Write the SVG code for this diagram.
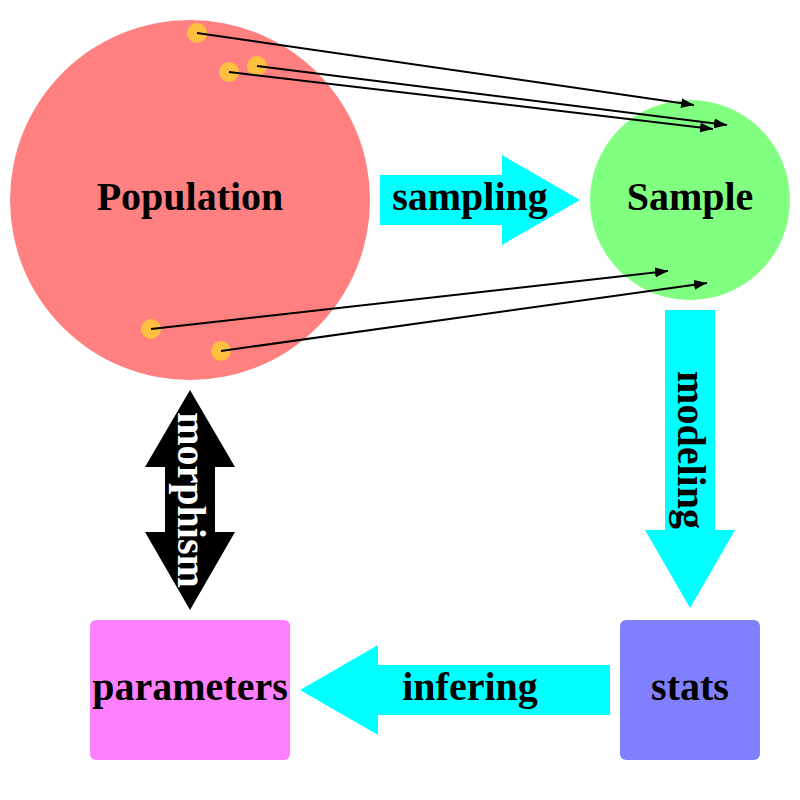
<svg xmlns="http://www.w3.org/2000/svg" width="800" height="800" viewBox="0 0 800 800">
<style>
.lbl{font-family:"Liberation Serif","Times New Roman",serif;font-weight:bold;font-size:40px;text-anchor:middle;fill:#000}
.wht{fill:#fff}
.cyan{fill:#00ffff}
.link{stroke:#000;stroke-width:2;fill:none;marker-end:url(#ah)}
.dot{fill:#ffbf40}
</style>
<defs>
<marker id="ah" viewBox="0 0 13 10" refX="13" refY="5" markerWidth="13" markerHeight="10" markerUnits="userSpaceOnUse" orient="auto">
<path d="M0,0 L13,5 L0,10 Z" fill="#000"/>
</marker>
</defs>
<rect width="800" height="800" fill="#fff"/>
<g id="population">
<circle cx="190" cy="200" r="180" fill="#ff8080"/>
<text class="lbl" x="190" y="210">Population</text>
</g>
<g id="sample">
<circle cx="690" cy="200" r="100" fill="#80ff80"/>
<text class="lbl" x="690" y="210">Sample</text>
</g>
<g id="parameters">
<rect x="90" y="620" width="200" height="140" rx="6" fill="#ff80ff"/>
<text class="lbl" x="190" y="700">parameters</text>
</g>
<g id="stats">
<rect x="620" y="620" width="140" height="140" rx="6" fill="#8080ff"/>
<text class="lbl" x="690" y="700">stats</text>
</g>
<g id="dots">
<circle class="dot" cx="197" cy="33" r="10"/>
<circle class="dot" cx="257" cy="66" r="10"/>
<circle class="dot" cx="229" cy="72" r="10"/>
<circle class="dot" cx="151" cy="329" r="10"/>
<circle class="dot" cx="221" cy="351" r="10"/>
</g>
<g id="connectors">
<g id="sampling">
<path class="cyan" d="M380,175 H502 V155 L580,200 L502,245 V225 H380 Z"/>
<text class="lbl" x="470" y="210">sampling</text>
</g>
<g id="modeling">
<path class="cyan" d="M665,310 H715 V530 H735 L690,608 L645,530 H665 Z"/>
<text class="lbl" transform="translate(690,450) rotate(90)" x="0" y="12">modeling</text>
</g>
<g id="infering">
<path class="cyan" d="M610,665 V715 H378 V735 L300,690 L378,645 V665 Z"/>
<text class="lbl" x="470" y="700">infering</text>
</g>
<g id="morphism">
<path fill="#000" d="M190,390 L235,467 H215 V532 H235 L190,610 L145,532 H165 V467 H145 Z"/>
<text class="lbl wht" transform="translate(190,500) rotate(90)" x="0" y="12">morphism</text>
</g>
<line class="link" x1="197" y1="33" x2="694" y2="105"/>
<line class="link" x1="257" y1="66" x2="727" y2="125"/>
<line class="link" x1="229" y1="72" x2="713" y2="129"/>
<line class="link" x1="151" y1="329" x2="668" y2="271"/>
<line class="link" x1="221" y1="351" x2="707" y2="283"/>
</g>
</svg>
